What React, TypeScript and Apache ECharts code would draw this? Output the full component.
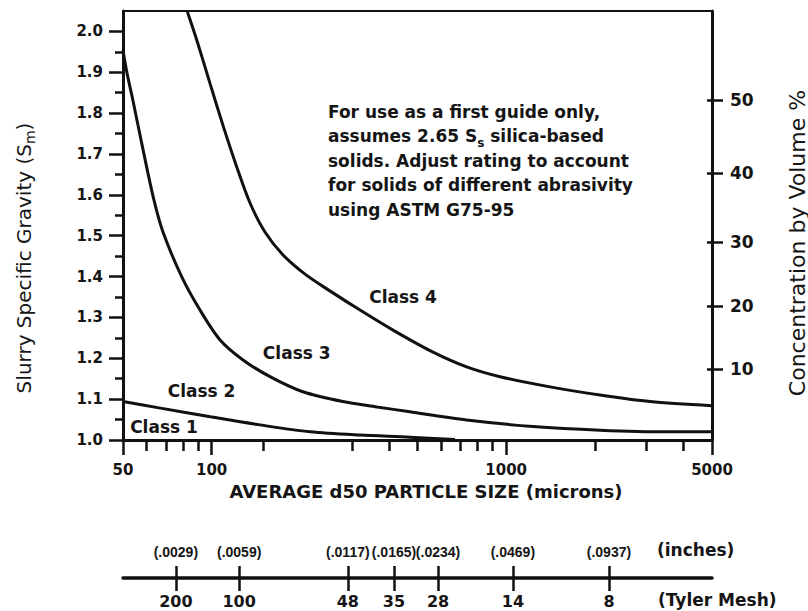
import React, { useEffect, useRef } from "react";
import * as echarts from "echarts";

// ---- data ----
// Class boundary curves: average d50 particle size (microns) vs slurry SG
const class12Size = [50, 67, 99, 146, 216, 319, 471, 670];
const class12Sg = [1.094, 1.078, 1.057, 1.037, 1.02, 1.012, 1.007, 1.001];

const class23Size = [50, 51.6, 54, 58.5, 63.7, 68.5, 79.1, 91.3, 106.8, 127.8, 157.8, 204, 279, 364, 471, 734, 1234, 2083, 3518, 5000];
const class23Sg = [1.954, 1.898, 1.832, 1.71, 1.587, 1.507, 1.4, 1.318, 1.245, 1.196, 1.155, 1.118, 1.094, 1.081, 1.069, 1.049, 1.033, 1.024, 1.02, 1.02];

const class34Size = [82.7, 89, 98.7, 109.6, 121.6, 135, 151.7, 174.7, 207.5, 252, 318.9, 412.8, 564.6, 734, 953, 1409, 2083, 3080, 5000];
const class34Sg = [2.048, 1.979, 1.873, 1.767, 1.669, 1.58, 1.509, 1.453, 1.406, 1.365, 1.318, 1.269, 1.215, 1.179, 1.155, 1.13, 1.11, 1.094, 1.084];

const classNames = ["Class 1", "Class 2", "Class 3", "Class 4"];
const classLabelSize = [68.9, 92.4, 194.5, 446.5];
const classLabelSg = [1.031, 1.121, 1.212, 1.349];

// ticks
const sizeMajorTicks = [50, 100, 1000, 5000];
const sizeMinorTicks = [60, 70, 80, 90, 150, 300, 400, 500, 600, 700, 800, 900, 2000, 3000, 4000];
const sgTicks = [1.0, 1.1, 1.2, 1.3, 1.4, 1.5, 1.6, 1.7, 1.8, 1.9, 2.0];
const sgMinorTicks = [1.05, 1.15, 1.25, 1.35, 1.45, 1.55, 1.65, 1.75, 1.85, 1.95];
const concLabels = ["10", "20", "30", "40", "50"];
const concTickSg = [1.174, 1.328, 1.485, 1.654, 1.832];

// Tyler mesh / inches scale (positions as particle size in microns)
const meshSize = [75.6, 124, 290, 416, 587, 1054, 2234];
const meshLabels = ["200", "100", "48", "35", "28", "14", "8"];
const inchLabels = ["(.0029)", "(.0059)", "(.0117)", "(.0165)", "(.0234)", "(.0469)", "(.0937)"];

const lg = (v: number) => Math.log10(v);
const X_MIN = lg(50);
const X_MAX = lg(5000);
const SG_MIN = 1.0;
const SG_MAX = 2.05;

const INK = "#111";
const TXT = "#151515";
const FONT = "DejaVu Sans";
const NARROW = "Liberation Sans";

const pick = (vals: number[], labels: string[], v: number, tf: (x: number) => number) => {
  const i = vals.findIndex((s) => Math.abs(tf(s) - v) < 1e-6);
  return i >= 0 ? labels[i] : "";
};

export default function App() {
  const ref = useRef<HTMLDivElement>(null);

  useEffect(() => {
    if (!ref.current) return;
    const chart = echarts.init(ref.current, null, { renderer: "svg" });

    const curve = (sizes: number[], sgs: number[]) => ({
      type: "line",
      xAxisIndex: 0,
      yAxisIndex: 0,
      data: sizes.map((s, i) => [lg(s), sgs[i]]),
      showSymbol: false,
      symbol: "none",
      smooth: 0.3,
      lineStyle: { color: INK, width: 3 },
      silent: true,
      z: 3,
    });

    const hiddenLabel = { show: false };

    const option: any = {
      animation: false,
      backgroundColor: "#ffffff",
      textStyle: { fontFamily: FONT, color: TXT },
      grid: [
        { left: 123, right: 96, top: 11, bottom: 171, show: true, borderColor: INK, borderWidth: 2, backgroundColor: "transparent" },
        { left: 123, right: 96, top: 577, height: 1, show: false },
      ],
      xAxis: [
        {
          type: "value", gridIndex: 0, position: "bottom", min: X_MIN, max: X_MAX,
          axisLine: { show: true, onZero: false, lineStyle: { color: INK, width: 3 } },
          axisTick: { show: true, customValues: sizeMajorTicks.map(lg), length: 15, lineStyle: { color: INK, width: 2.5 } },
          axisLabel: {
            show: true, customValues: sizeMajorTicks.map(lg), margin: 22,
            formatter: (v: number) => pick(sizeMajorTicks, sizeMajorTicks.map(String), v, lg),
            fontFamily: FONT, fontSize: 15, fontWeight: "bold", color: TXT,
          },
          splitLine: { show: false },
        },
        {
          type: "value", gridIndex: 0, position: "bottom", min: X_MIN, max: X_MAX,
          axisLine: { show: false, onZero: false },
          axisTick: { show: true, customValues: sizeMinorTicks.map(lg), length: 11, lineStyle: { color: INK, width: 2.5 } },
          axisLabel: hiddenLabel,
          splitLine: { show: false },
        },
        {
          type: "value", gridIndex: 1, position: "bottom", min: X_MIN, max: X_MAX,
          axisLine: { show: true, onZero: false, lineStyle: { color: INK, width: 3.5 } },
          axisTick: { show: true, customValues: meshSize.map(lg), length: 13, lineStyle: { color: INK, width: 2.5 } },
          axisLabel: {
            show: true, customValues: meshSize.map(lg), margin: 15,
            formatter: (v: number) => pick(meshSize, meshLabels, v, lg),
            fontFamily: FONT, fontSize: 16, fontWeight: "bold", color: TXT,
          },
          splitLine: { show: false },
        },
        {
          type: "value", gridIndex: 1, position: "top", min: X_MIN, max: X_MAX,
          axisLine: { show: false, onZero: false },
          axisTick: { show: true, customValues: meshSize.map(lg), length: 11, lineStyle: { color: INK, width: 2.5 } },
          axisLabel: {
            show: true, customValues: meshSize.map(lg), margin: 18,
            formatter: (v: number) => pick(meshSize, inchLabels, v, lg),
            fontFamily: NARROW, fontSize: 14, fontWeight: "bold", color: TXT,
          },
          splitLine: { show: false },
        },
      ],
      yAxis: [
        {
          type: "value", gridIndex: 0, position: "left", min: SG_MIN, max: SG_MAX,
          axisLine: { show: true, onZero: false, lineStyle: { color: INK, width: 3 } },
          axisTick: { show: true, customValues: sgTicks, length: 14, lineStyle: { color: INK, width: 2.5 } },
          axisLabel: {
            show: true, customValues: sgTicks, margin: 20,
            formatter: (v: number) => v.toFixed(1),
            fontFamily: FONT, fontSize: 15, fontWeight: "bold", color: TXT,
          },
          splitLine: { show: false },
        },
        {
          type: "value", gridIndex: 0, position: "left", min: SG_MIN, max: SG_MAX,
          axisLine: { show: false, onZero: false },
          axisTick: { show: true, customValues: sgMinorTicks, length: 8, lineStyle: { color: INK, width: 2.5 } },
          axisLabel: hiddenLabel,
          splitLine: { show: false },
        },
        {
          type: "value", gridIndex: 0, position: "right", min: SG_MIN, max: SG_MAX,
          axisLine: { show: true, onZero: false, lineStyle: { color: INK, width: 3 } },
          axisTick: { show: true, customValues: concTickSg, length: 11, lineStyle: { color: INK, width: 2.5 } },
          axisLabel: {
            show: true, customValues: concTickSg, margin: 18,
            formatter: (v: number) => pick(concTickSg, concLabels, v, (x) => x),
            fontFamily: FONT, fontSize: 17, fontWeight: "bold", color: TXT,
          },
          splitLine: { show: false },
        },
        {
          type: "value", gridIndex: 0, position: "right", min: SG_MIN, max: SG_MAX,
          axisLine: { show: false, onZero: false },
          axisTick: { show: true, inside: true, customValues: concTickSg, length: 5, lineStyle: { color: INK, width: 2.5 } },
          axisLabel: hiddenLabel,
          splitLine: { show: false },
        },
        {
          type: "value", gridIndex: 1, min: 0, max: 1, show: false,
        },
      ],
      series: [
        curve(class12Size, class12Sg),
        curve(class23Size, class23Sg),
        curve(class34Size, class34Sg),
        {
          type: "scatter",
          xAxisIndex: 0,
          yAxisIndex: 0,
          symbolSize: 0,
          silent: true,
          itemStyle: { color: INK, opacity: 1 },
          data: classNames.map((n, i) => ({ name: n, value: [lg(classLabelSize[i]), classLabelSg[i]] })),
          label: {
            show: true, position: "inside", formatter: "{b}", opacity: 1,
            fontFamily: FONT, fontSize: 17, fontWeight: "bold", color: TXT,
            textBorderWidth: 0, textBorderColor: "transparent",
          },
          z: 4,
        },
      ],
      graphic: [
        {
          type: "text", x: 24, y: 258, rotation: Math.PI / 2,
          style: {
            text: "{n|Slurry Specific Gravity (S}{s|m}{n|)}",
            align: "center", verticalAlign: "middle",
            rich: {
              n: { fontFamily: FONT, fontSize: 20, fill: TXT, lineHeight: 26, verticalAlign: "middle" },
              s: { fontFamily: FONT, fontSize: 14, fill: TXT, lineHeight: 14, verticalAlign: "bottom" },
            },
          },
        },
        {
          type: "text", x: 797, y: 243, rotation: Math.PI / 2,
          style: {
            text: "Concentration by Volume %",
            align: "center", verticalAlign: "middle",
            fontFamily: FONT, fontSize: 22, fill: TXT,
          },
        },
        {
          type: "text", x: 426, y: 491,
          style: {
            text: "AVERAGE d50 PARTICLE SIZE (microns)",
            align: "center", verticalAlign: "middle",
            fontFamily: FONT, fontSize: 18, fontWeight: "bold", fill: TXT,
          },
        },
        {
          type: "text", x: 328, y: 99.5,
          style: {
            text:
              "For use as a first guide only,\nassumes 2.65 S{sub|s} silica-based\nsolids. Adjust rating to account\nfor solids of different abrasivity\nusing ASTM G75-95",
            align: "left", verticalAlign: "top",
            fontFamily: FONT, fontSize: 17, fontWeight: "bold", fill: TXT, lineHeight: 24.5,
            rich: {
              sub: { fontFamily: FONT, fontSize: 12, fontWeight: "bold", fill: TXT, lineHeight: 15, verticalAlign: "bottom" },
            },
          },
        },
        {
          type: "text", x: 657, y: 550,
          style: { text: "(inches)", align: "left", verticalAlign: "middle", fontFamily: FONT, fontSize: 17, fontWeight: "bold", fill: TXT },
        },
        {
          type: "text", x: 658, y: 600,
          style: { text: "(Tyler Mesh)", align: "left", verticalAlign: "middle", fontFamily: FONT, fontSize: 17, fontWeight: "bold", fill: TXT },
        },
      ],
    };

    chart.setOption(option);
    return () => chart.dispose();
  }, []);

  return (
    <div
      ref={ref}
      style={{ position: "fixed", left: 0, top: 0, width: 808, height: 611, background: "#fff" }}
    />
  );
}
